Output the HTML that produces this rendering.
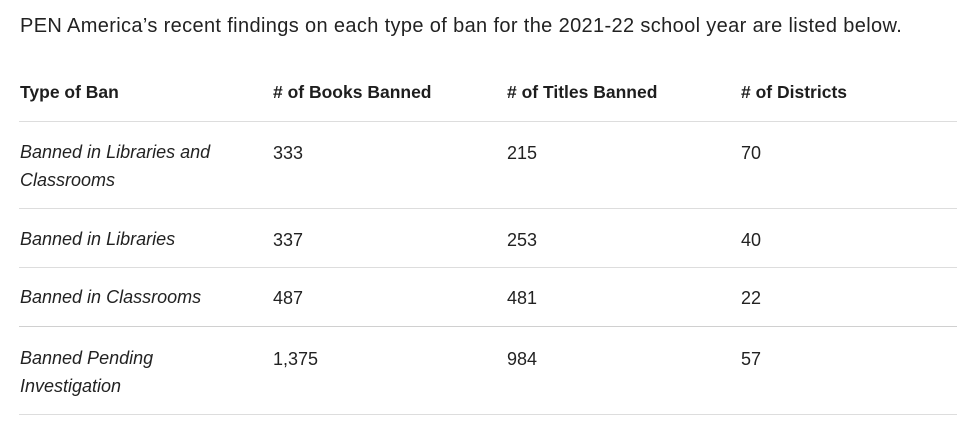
<!DOCTYPE html>
<html><head><meta charset="utf-8"><style>
body{margin:0;width:972px;height:442px;background:#fff;position:relative;overflow:hidden;font-family:"Liberation Sans",sans-serif;color:#222;}
.t{position:absolute;white-space:nowrap;line-height:28px;font-size:18px;}
.h{font-weight:bold;color:#1e1e1e;font-size:17.5px;}
.i{font-style:italic;}
.l{position:absolute;left:19px;width:938px;height:1px;background:#ddd;}
</style></head><body>
<div class="t" style="left:20px;top:12px;font-size:20px;letter-spacing:0.36px;">PEN America’s recent findings on each type of ban for the 2021-22 school year are listed below.</div>
<div class="t h" style="left:20px;top:78px;">Type of Ban</div>
<div class="t h" style="left:273px;top:78px;"># of Books Banned</div>
<div class="t h" style="left:507px;top:78px;"># of Titles Banned</div>
<div class="t h" style="left:741px;top:78px;"># of Districts</div>
<div class="l" style="top:121px"></div>
<div class="t i" style="left:20px;top:138px;">Banned in Libraries and<br>Classrooms</div>
<div class="t" style="left:273px;top:139px;">333</div><div class="t" style="left:507px;top:139px;">215</div><div class="t" style="left:741px;top:139px;">70</div>
<div class="l" style="top:208px"></div>
<div class="t i" style="left:20px;top:225px;">Banned in Libraries</div>
<div class="t" style="left:273px;top:226px;">337</div><div class="t" style="left:507px;top:226px;">253</div><div class="t" style="left:741px;top:226px;">40</div>
<div class="l" style="top:267px"></div>
<div class="t i" style="left:20px;top:283px;">Banned in Classrooms</div>
<div class="t" style="left:273px;top:284px;">487</div><div class="t" style="left:507px;top:284px;">481</div><div class="t" style="left:741px;top:284px;">22</div>
<div class="l" style="top:326px;background:#d0d0d0"></div>
<div class="t i" style="left:20px;top:344px;">Banned Pending<br>Investigation</div>
<div class="t" style="left:273px;top:345px;">1,375</div><div class="t" style="left:507px;top:345px;">984</div><div class="t" style="left:741px;top:345px;">57</div>
<div class="l" style="top:414px"></div>
</body></html>
